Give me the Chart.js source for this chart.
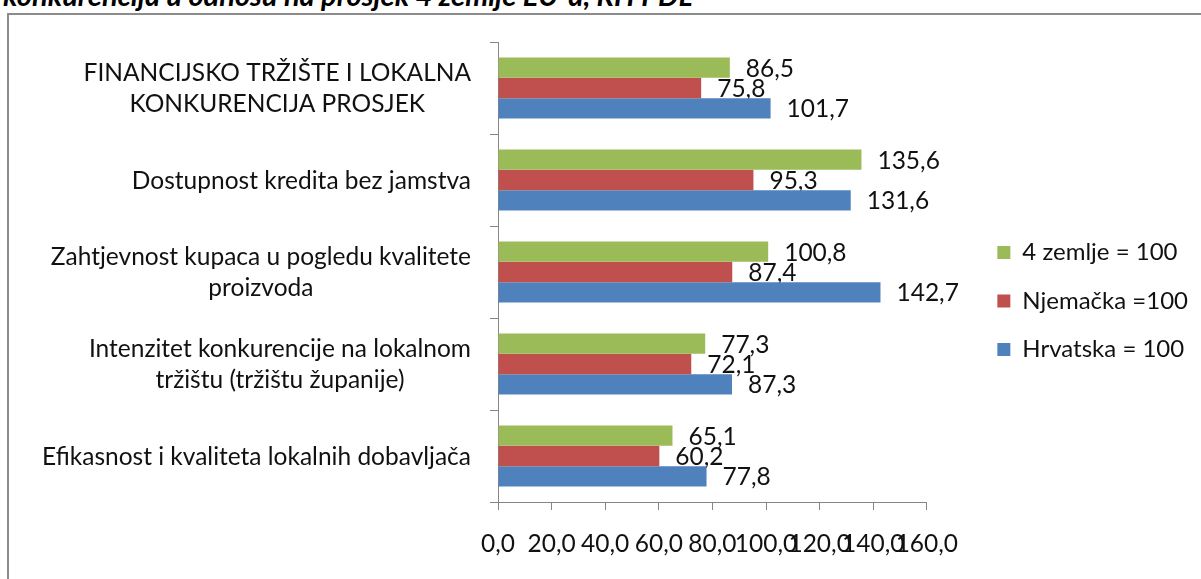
<!DOCTYPE html>
<html>
<head>
<meta charset="utf-8">
<script src="https://cdn.jsdelivr.net/npm/chart.js@4.4.1/dist/chart.umd.min.js"></script>
<style>
	html, body { margin: 0; padding: 0; background: #fff; overflow: hidden; }
	#heading {
		position: absolute; left: 3px; top: -20px;
		font: italic bold 29px Lato, sans-serif; line-height: 30px;
		white-space: nowrap; color: #000;
	}
	#frame {
		position: absolute; left: 7px; top: 13px; width: 1300px; height: 700px;
		border: 2px solid #8c8c8c;
	}
	#wrap { position: absolute; left: 0; top: 0; width: 1201px; height: 579px; }
</style>
</head>
<body>
<div id="heading">konkurencija u odnosu na prosjek 4 zemlje EU-a, RH PDL</div>
<div id="frame"></div>
<div id="wrap"><canvas id="chart" width="1201" height="579"></canvas></div>
<script>
// Categories, top to bottom
const categories = [
	['FINANCIJSKO TRŽIŠTE I LOKALNA', 'KONKURENCIJA PROSJEK'],
	['Dostupnost kredita bez jamstva'],
	['Zahtjevnost kupaca u pogledu kvalitete', 'proizvoda'],
	['Intenzitet konkurencije na lokalnom', 'tržištu (tržištu županije)'],
	['Efikasnost i kvaliteta lokalnih dobavljača']
];

const seriesNames = ['4 zemlje = 100', 'Njemačka =100', 'Hrvatska = 100'];
const seriesColors = ['#9BBB59', '#C0504D', '#4F81BD'];

const eu4Values = [86.5, 135.6, 100.8, 77.3, 65.1];
const germanyValues = [75.8, 95.3, 87.4, 72.1, 60.2];
const croatiaValues = [101.7, 131.6, 142.7, 87.3, 77.8];

const xMin = 0;
const xMax = 160;
const xStep = 20;

const FONT_SIZE = 24.5;
const FONT = `${FONT_SIZE}px Lato, sans-serif`;
const AXIS_COLOR = '#868686';
const TEXT_COLOR = '#111';

function formatValue(n) {
	return n.toFixed(1).replace('.', ',');
}

// Category names: lines centred on each other, block right-aligned to the axis
const categoryLabels = {
	id: 'categoryLabels',
	afterDraw(chart) {
		const { ctx } = chart;
		const y = chart.scales.y;
		const right = y.right - 27;
		const lineHeight = 31;
		ctx.save();
		ctx.font = FONT;
		ctx.fillStyle = TEXT_COLOR;
		ctx.textAlign = 'center';
		ctx.textBaseline = 'middle';
		categories.forEach((lines, i) => {
			const yc = y.getPixelForValue(i) + 1;
			const w = Math.max(...lines.map(l => ctx.measureText(l).width));
			const xc = right - w / 2;
			lines.forEach((line, j) => {
				ctx.fillText(line, xc, yc + (j - (lines.length - 1) / 2) * lineHeight);
			});
		});
		ctx.restore();
	}
};

// Value labels sit behind the bars, so neighbouring bars may cover them
const valueLabels = {
	id: 'valueLabels',
	beforeDatasetsDraw(chart) {
		const { ctx } = chart;
		ctx.save();
		ctx.font = FONT;
		ctx.fillStyle = TEXT_COLOR;
		ctx.textAlign = 'left';
		ctx.textBaseline = 'middle';
		chart.data.datasets.forEach((ds, i) => {
			chart.getDatasetMeta(i).data.forEach((bar, j) => {
				ctx.fillText(formatValue(ds.data[j]), bar.x + 16, bar.y + 1);
			});
		});
		ctx.restore();
	}
};

// Push the legend away from the plot area
const legendGap = {
	id: 'legendGap',
	afterLayout(chart) {
		const gap = 46;
		chart.legend.left += gap;
		chart.legend.right += gap;
	}
};

new Chart(document.getElementById('chart'), {
	type: 'bar',
	data: {
		labels: categories,
		datasets: [
			{ label: seriesNames[0], data: eu4Values, backgroundColor: seriesColors[0] },
			{ label: seriesNames[1], data: germanyValues, backgroundColor: seriesColors[1] },
			{ label: seriesNames[2], data: croatiaValues, backgroundColor: seriesColors[2] }
		]
	},
	options: {
		indexAxis: 'y',
		responsive: false,
		animation: false,
		devicePixelRatio: 1,
		categoryPercentage: 0.665,
		barPercentage: 1,
		layout: { padding: { left: 0, top: 42, right: 49, bottom: 19 } },
		plugins: {
			tooltip: { enabled: false },
			legend: {
				position: 'right',
				labels: {
					font: { family: 'Lato, sans-serif', size: 24 },
					color: TEXT_COLOR,
					boxWidth: 13,
					boxHeight: 13,
					padding: 24.5
				}
			}
		},
		scales: {
			x: {
				min: xMin,
				max: xMax,
				grid: { drawOnChartArea: false, tickLength: 8, color: AXIS_COLOR },
				border: { color: AXIS_COLOR },
				ticks: {
					stepSize: xStep,
					autoSkip: false,
					maxRotation: 0,
					padding: 19,
					color: TEXT_COLOR,
					font: { family: 'Lato, sans-serif', size: FONT_SIZE },
					callback: v => formatValue(v)
				},
				afterFit(scale) { scale.height = 58; }
			},
			y: {
				grid: { drawOnChartArea: false, tickLength: 8, color: AXIS_COLOR, offset: true },
				border: { color: AXIS_COLOR },
				ticks: { display: false },
				afterFit(scale) { scale.width = 498; }
			}
		}
	},
	plugins: [categoryLabels, valueLabels, legendGap]
});
</script>
</body>
</html>
